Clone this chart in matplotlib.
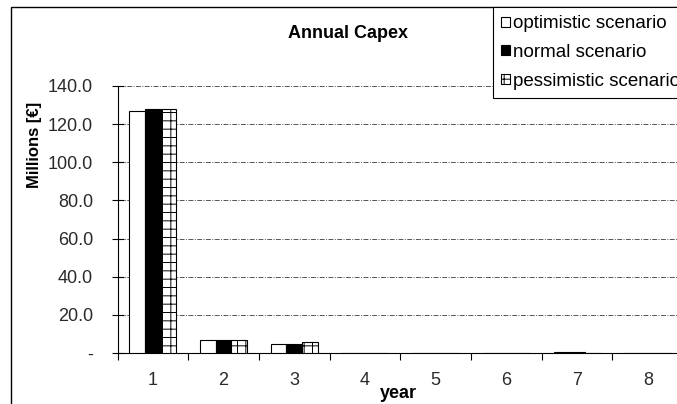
import matplotlib
matplotlib.use("Agg")
import matplotlib.pyplot as plt
from matplotlib.patches import Rectangle, Patch
import numpy as np

plt.rcParams['font.family'] = ['Liberation Sans', 'DejaVu Sans']
plt.rcParams['hatch.linewidth'] = 0.7

years = [1, 2, 3, 4, 5, 6, 7, 8]
optimistic = [127.0, 7.0, 4.8, 0.0, 0.0, 0.0, 0.6, 0.0]
normal = [127.8, 7.0, 4.8, 0.0, 0.0, 0.0, 0.6, 0.0]
pessimistic = [127.8, 7.0, 5.8, 0.0, 0.0, 0.0, 0.2, 0.0]
series_names = ["optimistic scenario", "normal scenario", "pessimistic scenario"]
yticks = [0, 20, 40, 60, 80, 100, 120, 140]
ytick_labels = ["-", "20.0", "40.0", "60.0", "80.0", "100.0", "120.0", "140.0"]

W, H = 677, 404
fig = plt.figure(figsize=(W / 100, H / 100), dpi=100)
fig.patch.set_facecolor("white")

left = 117.5 / W
bottom = (H - 353) / H
height = (353 - 86) / H
width = 8 * 70.7 / W
ax = fig.add_axes([left, bottom, width, height])

x = np.array(years, dtype=float)
bw = 0.222
ax.bar(x - bw, optimistic, bw, color="white", edgecolor="black", linewidth=0.8, zorder=3)
ax.bar(x, normal, bw, color="black", edgecolor="black", linewidth=0.8, zorder=3)
ax.bar(x + bw, pessimistic, bw, color="white", edgecolor="black", linewidth=0.8,
       hatch="++", zorder=3)

ax.set_xlim(0.5, 8.5)
ax.set_ylim(0, 140)
ax.set_yticks(yticks)
ax.set_yticklabels(ytick_labels, fontsize=13, color="#2a2a2a")
ax.set_xticks(years)
ax.set_xticklabels([str(y) for y in years], fontsize=13, color="#2a2a2a")
ax.set_xticks(np.arange(0.5, 9.0, 1.0), minor=True)
ax.tick_params(axis="x", which="major", length=0, pad=14)
ax.tick_params(axis="x", which="minor", length=5, direction="out", width=0.8)
ax.tick_params(axis="y", which="major", length=9, direction="inout", width=0.8, pad=13)

for s in ["top", "right"]:
    ax.spines[s].set_visible(False)
ax.spines["left"].set_linewidth(0.8)
ax.spines["bottom"].set_linewidth(0.8)
ax.yaxis.grid(True, linestyle=(0, (5, 1.5, 1, 1.5)), color="#555555", linewidth=0.7, zorder=0)
ax.set_axisbelow(True)

fig.text(288 / W, 1 - 38.5 / H, "Annual Capex", ha="left", va="baseline",
         fontsize=13, fontweight="bold")
fig.text(35 / W, 1 - 144.5 / H, "Millions [€]", ha="center", va="center",
         rotation=90, fontsize=12, fontweight="bold")
fig.text(398 / W, 1 - 398 / H, "year", ha="center", va="baseline",
         fontsize=13, fontweight="bold")

# outer frame
fig.patches.append(Rectangle((11 / W, -0.1), 1.2, 1 - 7 / H + 0.1, fill=False,
                             edgecolor="black", linewidth=1.0, transform=fig.transFigure,
                             figure=fig))

handles = [Patch(facecolor="white", edgecolor="black", linewidth=0.8),
           Patch(facecolor="black", edgecolor="black", linewidth=0.8),
           Patch(facecolor="white", edgecolor="black", linewidth=0.8, hatch="++")]
leg = fig.legend(handles, series_names, loc="upper left",
                 bbox_to_anchor=(493 / W, 1 - 7 / H), fontsize=13.5,
                 frameon=True, fancybox=False, edgecolor="black", framealpha=1,
                 handlelength=0.45, handleheight=0.45, handletextpad=0.15,
                 borderpad=0.45, labelspacing=0.62, borderaxespad=0)
leg.get_frame().set_linewidth(0.8)

fig.savefig("out.png", dpi=100)
